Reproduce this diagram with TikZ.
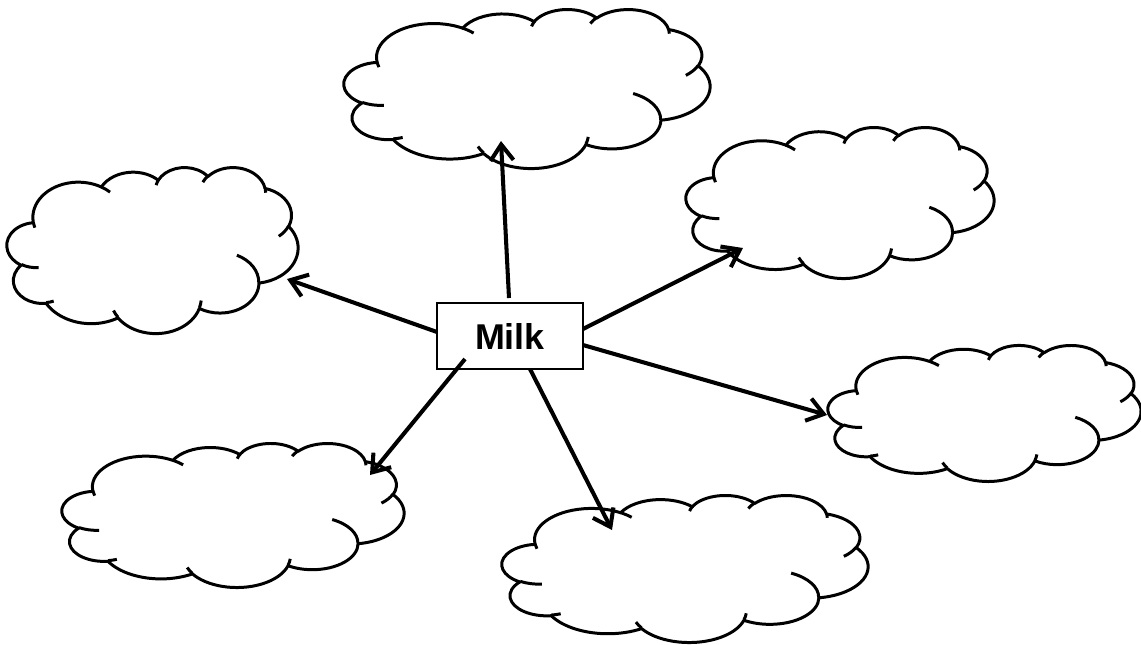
\documentclass[tikz,border=0pt]{standalone}
\usepackage{fontspec}
\setmainfont{Liberation Sans}
\usetikzlibrary{arrows.meta,calc}

% one arc of the cloud: x radius, y radius, start, sweep (ray angles)
\newcommand\cloudarc[4]{%
  \pgfextra{%
    \pgfmathsetmacro\cloudsa{#3}%
    \pgfmathsetmacro\cloudsb{#3+#4}%
    \pgfmathsetmacro\cloudta{\cloudsa+mod(atan2(#1*sin(\cloudsa),#2*cos(\cloudsa))-\cloudsa+540,360)-180}%
    \pgfmathsetmacro\cloudtb{\cloudsb+mod(atan2(#1*sin(\cloudsb),#2*cos(\cloudsb))-\cloudsb+540,360)-180}%
    \global\let\cloudta\cloudta \global\let\cloudtb\cloudtb}%
  arc[x radius=#1, y radius=#2, start angle=\cloudta, end angle=\cloudtb]}

% cloud in the box (#2,#3)--(#4,#5), centre named #1
\newcommand\wordcloud[5]{%
\begin{scope}[shift={(#2,#3)}, xscale={(#4-#2)/43.2}, yscale={(#5-#3)/43.2}]
  \filldraw[cloudline, fill=white] (3.900,14.370)
    \cloudarc{6.753}{9.190}{-190.4875}{123.7805}
    \cloudarc{5.333}{7.267}{-144.1024}{89.9452}
    \cloudarc{4.365}{5.945}{-145.8079}{99.7230}
    \cloudarc{4.857}{6.595}{-130.9861}{117.2417}
    \cloudarc{5.333}{7.273}{-78.7089}{109.0269}
    \cloudarc{6.775}{9.220}{-46.2673}{130.2690}
    \cloudarc{5.785}{7.867}{0.6250}{114.0333}
    \cloudarc{6.752}{9.215}{22.4516}{115.1726}
    \cloudarc{7.720}{10.543}{66.2426}{75.7110}
    \cloudarc{4.360}{5.918}{-274.9421}{146.7356}
    \cloudarc{4.345}{5.945}{-246.8285}{152.5189} -- cycle;
  \draw[cloudline]
    (4.693,26.177) \cloudarc{4.345}{5.945}{86.742}{26.4295}
    (6.928,34.899) \cloudarc{4.360}{5.918}{73.6105}{11.4475}
    (16.478,39.090) \cloudarc{6.752}{9.215}{137.6242}{14.0811}
    (28.827,34.751) \cloudarc{6.752}{9.215}{6.4533}{15.9984}
    (34.129,22.954) \cloudarc{5.785}{7.867}{-70.2924}{70.9174}
    (41.798,15.354) \cloudarc{5.333}{7.273}{30.318}{27.7515}
    (38.324,5.426) \cloudarc{4.857}{6.595}{-13.7443}{14.8589}
    (29.078,3.952) \cloudarc{4.857}{6.595}{-149.1815}{18.1954}
    (22.141,4.720) \cloudarc{4.365}{5.945}{-163.4943}{17.6864}
    (14.000,5.192) \cloudarc{6.753}{9.190}{-66.707}{12.3194}
    (4.127,15.789) \cloudarc{6.753}{9.190}{157.6544}{11.8582};
  \coordinate (#1) at (21.6,21.6);
\end{scope}}

\tikzset{
  cloudline/.style={line width=0.85pt, line join=round},
  milkbox/.style={draw, line width=0.6pt, minimum width=14.6mm, minimum height=6.6mm,
    inner sep=0pt, font=\bfseries\fontsize{10.2}{12}\selectfont},
  spoke/.style={line width=1.15pt, -{Straight Barb[length=1.6mm,width=2.3mm]}}
}

\begin{document}
\begin{tikzpicture}[x=0.01cm, y=-0.01cm]
\useasboundingbox (0,0) rectangle (1141,644);

\wordcloud{topcloud}{344}{9}{710}{168}
\wordcloud{leftcloud}{7}{167}{298}{333}
\wordcloud{uprightcloud}{686}{127}{994}{278}
\wordcloud{rightcloud}{828}{345}{1141}{481}
\wordcloud{lowleftcloud}{62}{443}{404}{587}
\wordcloud{bottomcloud}{502}{495}{868}{642}

\node[milkbox] (milk) at (510,336) {Milk};

\coordinate (totop) at (501,141);
\coordinate (toleft) at (287,279);
\coordinate (toupright) at (743,248);
\coordinate (toright) at (827,415);
\coordinate (tolowleft) at (370,475);
\coordinate (tobottom) at (612,530);

\draw[spoke] ($(milk)+(-1,-38)$) -- (totop);
\draw[spoke] ($(milk)+(-73,-4)$) -- (toleft);
\draw[spoke] ($(milk)+(73,-7)$) -- (toupright);
\draw[spoke] ($(milk)+(73,9)$) -- (toright);
\draw[spoke] ($(milk)+(-45,23)$) -- (tolowleft);
\draw[spoke] ($(milk)+(20,33)$) -- (tobottom);

\end{tikzpicture}
\end{document}
